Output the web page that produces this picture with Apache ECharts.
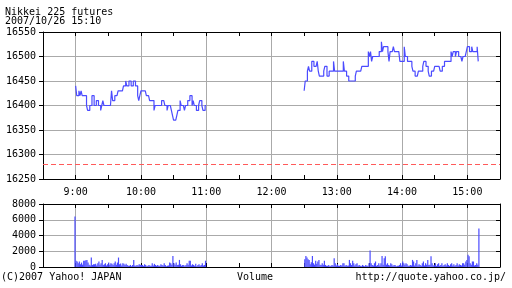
<!DOCTYPE html>
<html><head><meta charset="utf-8">
<script src="https://cdn.jsdelivr.net/npm/echarts@6/dist/echarts.min.js"></script>
<style>html,body{margin:0;padding:0;background:#fff}#c{width:512px;height:288px}</style>
</head><body><div id="c"></div>
<script>
const titleText = 'Nikkei 225 futures';
const dateText = '2007/10/26 15:10';
const footerLeft = '(C)2007 Yahoo! JAPAN';
const footerMid = 'Volume';
const footerRight = 'http://quote.yahoo.co.jp/';
const morningStart = 540;   // 9:00 in minutes
const afternoonStart = 750; // 12:30 in minutes
const prevClose = 16280;
const hourTicks = [540, 600, 660, 720, 780, 840, 900];
const hourLabels = ['9:00', '10:00', '11:00', '12:00', '13:00', '14:00', '15:00'];

const morningPrice = [
16440,16420,16420,16430,16420,16430,16420,16420,16420,16420,
16400,16390,16390,16400,16400,16420,16420,16400,16400,16410,
16410,16400,16400,16390,16400,16410,16400,16400,16400,16400,
16400,16400,16400,16430,16410,16410,16420,16420,16420,16430,
16430,16430,16430,16430,16440,16440,16450,16440,16440,16450,
16450,16440,16440,16450,16450,16440,16440,16420,16410,16420,
16430,16430,16430,16430,16430,16420,16420,16420,16410,16410,
16410,16410,16390,16400,16400,16400,16400,16400,16400,16410,
16410,16410,16400,16400,16390,16400,16400,16400,16390,16380,
16370,16370,16370,16380,16390,16390,16410,16400,16400,16400,
16390,16400,16400,16410,16410,16420,16420,16400,16410,16400,
16400,16390,16390,16400,16410,16410,16400,16390,16390,16400,
16400];

const afternoonPrice = [
16430,16450,16450,16470,16480,16470,16470,16490,16490,16480,
16480,16480,16490,16470,16460,16460,16460,16460,16470,16480,
16480,16460,16460,16470,16470,16470,16470,16490,16470,16470,
16470,16470,16470,16470,16470,16470,16490,16470,16470,16460,
16460,16450,16450,16450,16450,16450,16450,16460,16470,16470,
16470,16470,16470,16480,16480,16480,16480,16480,16480,16510,
16500,16510,16490,16500,16500,16500,16500,16500,16500,16510,
16510,16530,16510,16520,16520,16520,16520,16510,16490,16510,
16510,16510,16520,16510,16510,16510,16510,16510,16490,16490,
16490,16490,16520,16500,16500,16490,16490,16490,16490,16480,
16470,16470,16460,16460,16460,16470,16470,16470,16470,16480,
16490,16490,16480,16480,16470,16460,16460,16470,16470,16470,
16480,16480,16480,16480,16480,16470,16470,16480,16480,16490,
16490,16490,16490,16490,16490,16510,16500,16510,16510,16500,
16510,16510,16500,16500,16500,16490,16500,16500,16500,16510,
16520,16520,16510,16510,16520,16510,16510,16510,16510,16520,
16490];

const morningVolume = [
6400,800,700,480,700,350,560,300,800,800,
850,900,560,300,200,1200,260,350,350,400,
200,480,700,300,480,900,250,350,480,200,
350,560,300,480,400,250,480,700,300,560,
1200,350,430,200,480,400,250,400,260,150,
170,260,100,260,900,200,170,260,200,350,
300,260,260,150,350,260,100,170,260,150,
170,480,200,400,260,150,260,170,150,350,
260,200,480,260,100,170,200,560,480,300,
1400,480,300,560,260,300,900,350,150,260,
260,100,260,480,300,800,800,200,350,260,
150,400,100,260,350,150,260,480,200,260,
800];

const afternoonVolume = [
1000,1400,1200,1000,900,350,600,1400,480,300,
800,400,700,900,300,260,480,300,800,260,
150,170,260,100,170,260,200,1100,480,200,
350,170,150,260,200,480,480,150,260,170,
200,900,480,250,800,480,200,350,480,150,
260,170,100,260,170,100,260,170,150,480,
2100,480,260,200,480,700,150,260,480,200,
480,1400,300,1100,1350,300,480,260,200,480,
350,150,260,260,100,170,150,260,480,200,
700,480,300,480,350,150,170,260,200,900,
700,200,480,900,200,350,260,150,480,700,
200,480,300,900,260,300,1350,480,200,260,
480,150,350,480,150,260,480,150,260,350,
200,480,260,150,350,480,200,350,150,260,
480,200,350,260,200,480,480,300,700,900,
1550,1350,480,300,700,700,200,260,480,300,
4900];

const FONT = 'DejaVu Sans Mono';
const GRID = '#aaaaaa';
const LINE = '#4b4bff';
const toPairs = (arr, start) => arr.map((v, i) => [start + i, v]);

function xAx(gridIndex, pos, labels, split) {
  return {
    type: 'value', gridIndex, position: pos, min: 510, max: 930, interval: 30,
    axisLine: { show: true, onZero: false, lineStyle: { color: '#000', width: 1 } },
    axisTick: { show: true, inside: true, length: 4, lineStyle: { color: '#000' } },
    axisLabel: labels ? {
      show: true, margin: 8, color: '#000', fontFamily: FONT, fontSize: 10,
      formatter: v => { const k = hourTicks.indexOf(v); return k >= 0 ? hourLabels[k] : ''; }
    } : { show: false },
    splitLine: split ? { show: true, showMinLine: false, showMaxLine: false,
      lineStyle: { color: [GRID, 'rgba(0,0,0,0)'], width: 1 } } : { show: false }
  };
}
function yAx(gridIndex, pos, min, max, interval, labels) {
  return {
    type: 'value', gridIndex, position: pos, min, max, interval,
    axisLine: { show: true, onZero: false, lineStyle: { color: '#000', width: 1 } },
    axisTick: { show: true, inside: pos === 'right', length: 4, lineStyle: { color: '#000' } },
    axisLabel: labels ? { show: true, margin: 7, color: '#000', fontFamily: FONT, fontSize: 10,
      formatter: v => String(v) } : { show: false },
    splitLine: labels ? { show: true, showMinLine: false, showMaxLine: false,
      lineStyle: { color: GRID, width: 1 } } : { show: false }
  };
}

const chart = echarts.init(document.getElementById('c'), null, { renderer: 'canvas' });
chart.setOption({
  animation: false,
  backgroundColor: '#fff',
  grid: [
    { left: 43, right: 12, top: 32, height: 147 },
    { left: 43, right: 12, top: 204, height: 63 }
  ],
  xAxis: [xAx(0, 'bottom', true, true), xAx(0, 'top', false, false),
          xAx(1, 'bottom', false, true), xAx(1, 'top', false, false)],
  yAxis: [yAx(0, 'left', 16250, 16550, 50, true), yAx(0, 'right', 16250, 16550, 50, false),
          yAx(1, 'left', 0, 8000, 2000, true), yAx(1, 'right', 0, 8000, 2000, false)],
  graphic: [
    { type: 'text', style: { x: 5, y: 12, text: titleText, font: '10px "DejaVu Sans Mono"', fill: '#000', verticalAlign: 'middle' } },
    { type: 'text', style: { x: 5, y: 21.5, text: dateText, font: '10px "DejaVu Sans Mono"', fill: '#000', verticalAlign: 'middle' } },
    { type: 'text', style: { x: 1, y: 277, text: footerLeft, font: '10px "DejaVu Sans Mono"', fill: '#000', verticalAlign: 'middle' } },
    { type: 'text', style: { x: 237, y: 277, text: footerMid, font: '10px "DejaVu Sans Mono"', fill: '#000', verticalAlign: 'middle' } },
    { type: 'text', style: { x: 506, y: 277, text: footerRight, font: '10px "DejaVu Sans Mono"', fill: '#000', verticalAlign: 'middle', align: 'right' } }
  ],
  series: [
    { type: 'line', xAxisIndex: 0, yAxisIndex: 0, step: 'end', symbol: 'none',
      lineStyle: { color: LINE, width: 1.2 }, data: toPairs(morningPrice, morningStart),
      markLine: { silent: true, symbol: 'none', label: { show: false },
        lineStyle: { color: '#ff5a5a', type: [5, 3], width: 1 },
        data: [{ yAxis: prevClose }] } },
    { type: 'line', xAxisIndex: 0, yAxisIndex: 0, step: 'end', symbol: 'none',
      lineStyle: { color: LINE, width: 1.2 }, data: toPairs(afternoonPrice, afternoonStart) },
    { type: 'bar', xAxisIndex: 2, yAxisIndex: 2, barWidth: 1.2, itemStyle: { color: LINE },
      data: toPairs(morningVolume, morningStart) },
    { type: 'bar', xAxisIndex: 2, yAxisIndex: 2, barWidth: 1.2, itemStyle: { color: LINE },
      data: toPairs(afternoonVolume, afternoonStart) }
  ]
});
</script></body></html>
